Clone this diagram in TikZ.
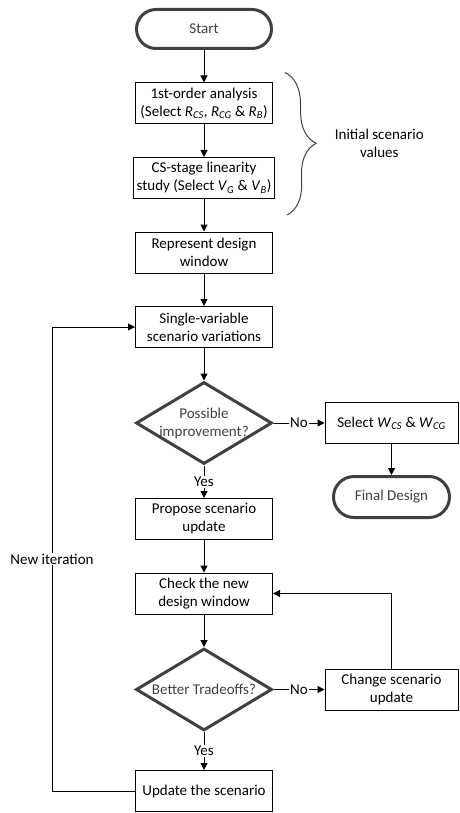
\documentclass[tikz,border=0pt]{standalone}
\usepackage{fontspec}
\setmainfont{Carlito}
\usepackage{tikz}
\usetikzlibrary{arrows.meta,calc,positioning,shapes.geometric,decorations.pathreplacing}
\definecolor{flowGray}{HTML}{404040}
\newcommand{\param}[2]{\textit{#1}\textsubscript{\textit{#2}}}

\begin{document}
\begin{tikzpicture}[
    node distance=32.5pt and 51pt,
    every node/.style={font=\fontsize{15}{18}\selectfont},
    terminal/.style={draw=flowGray,line width=3pt,rounded corners=19.5pt,
      minimum width=135pt,minimum height=39pt,text=flowGray},
    box/.style={draw=black,line width=1pt,align=center,
      minimum width=137pt,minimum height=41pt},
    decision/.style={diamond,draw=flowGray,line width=3pt,aspect=1.6,
      minimum width=136pt,minimum height=82pt,inner sep=-6pt,align=center,
      text=flowGray},
    arrow/.style={-{Triangle[length=7pt,width=7pt]},line width=1pt},
    tag/.style={fill=white,inner sep=1pt}]
    \useasboundingbox (0,0) rectangle (459pt,-813pt);
    \node[terminal] (start) at (204pt,-29pt) {Start};
    \node[box,below=of start] (firstorder) {1st-order analysis\\(Select \param{R}{CS}, \param{R}{CG} \& \param{R}{B})};
    \node[box,below=of firstorder] (linearity) {CS-stage linearity\\study (Select \param{V}{G} \& \param{V}{B})};
    \node[box,below=of linearity] (window) {Represent design\\window};
    \node[box,below=of window] (variations) {Single-variable\\scenario variations};
    \node[decision,below=of variations] (possible) {Possible\\improvement?};
    \node[box,right=of possible,minimum width=133pt] (select) {Select \param{W}{CS} \& \param{W}{CG}};
    \node[terminal,below=31pt of select,minimum width=116pt,minimum height=41pt,
      rounded corners=20.5pt] (final) {Final Design};
    \node[box,below=of possible] (propose) {Propose scenario\\update};
    \node[box,below=of propose] (check) {Check the new\\design window};
    \node[decision,below=of check] (better) {Better Tradeoffs?};
    \node[box,right=of better,minimum width=133pt] (change) {Change scenario\\update};
    \node[box,below=38pt of better] (update) {Update the scenario};
    % brace for the initial values
    \draw[decorate,decoration={brace,amplitude=30pt},line width=1pt,draw=flowGray]
      ($(firstorder.north east)+(12pt,10pt)$) -- ($(linearity.south east)+(12pt,-16pt)$)
      node[midway,right=45pt,align=center] (initial) {Initial scenario\\values};
    \draw[arrow] (start) -- (firstorder);
    \draw[arrow] (firstorder) -- (linearity);
    \draw[arrow] (linearity) -- (window);
    \draw[arrow] (window) -- (variations);
    \draw[arrow] (variations) -- (possible);
    \draw[arrow] (possible) -- node[tag] (nofirst) {No} (select);
    \draw[arrow] (select) -- (final);
    \draw[arrow] (possible) -- node[tag] (yesfirst) {Yes} (propose);
    \draw[arrow] (propose) -- (check);
    \draw[arrow] (check) -- (better);
    \draw[arrow] (better) -- node[tag] (nosecond) {No} (change);
    \draw[arrow] (change) |- (check);
    \draw[arrow] (better) -- node[tag] (yessecond) {Yes} (update);
    % loop back for a new iteration
    \coordinate (loopcorner) at ($(update.west)+(-83pt,0)$);
    \draw[arrow] (update.west) -- (loopcorner) |- node[tag,pos=0.25] (newiteration) {New iteration} (variations.west);
  \end{tikzpicture}
\end{document}
